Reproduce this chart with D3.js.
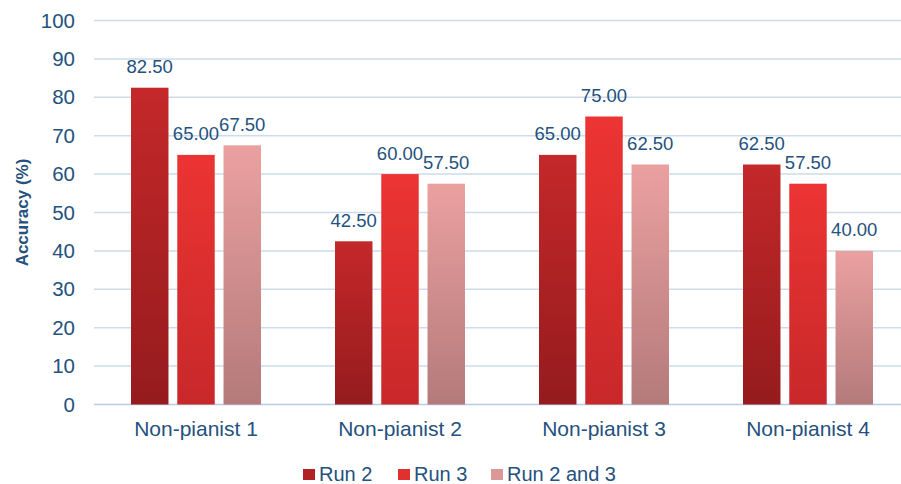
<!DOCTYPE html>
<html>
<head>
<meta charset="utf-8">
<script src="https://cdn.jsdelivr.net/npm/d3@7"></script>
<style>
  html, body { margin: 0; padding: 0; background: #fff; }
  svg { display: block; font-family: "Liberation Sans", Arial, sans-serif; }
</style>
</head>
<body>
<svg id="chart" width="901" height="484"></svg>
<script>
// Participants and accuracy per run (%)
const categories = ["Non-pianist 1", "Non-pianist 2", "Non-pianist 3", "Non-pianist 4"];
const seriesNames = ["Run 2", "Run 3", "Run 2 and 3"];
const run2 = [82.50, 42.50, 65.00, 62.50];
const run3 = [65.00, 60.00, 75.00, 57.50];
const run23 = [67.50, 57.50, 62.50, 40.00];
const yTicks = [0, 10, 20, 30, 40, 50, 60, 70, 80, 90, 100];

(function () {
  const seriesValues = [run2, run3, run23];
  const topColors = ["#c4282a", "#ec3433", "#eba0a0"];
  const bottomColors = ["#951b1d", "#c8282a", "#b47a7a"];
  const legendColors = ["#b02224", "#e0302f", "#dc9898"];
  const textColor = "#24517e";

  const svg = d3.select("#chart");
  const defs = svg.append("defs");
  seriesNames.forEach((s, i) => {
    const g = defs.append("linearGradient")
      .attr("id", "grad" + i).attr("x1", 0).attr("y1", 0).attr("x2", 0).attr("y2", 1);
    g.append("stop").attr("offset", "0%").attr("stop-color", topColors[i]);
    g.append("stop").attr("offset", "100%").attr("stop-color", bottomColors[i]);
  });

  const m = { left: 94, right: 910, top: 20.5, bottom: 404.5 };

  const y = d3.scaleLinear().domain([0, 100]).range([m.bottom, m.top]);
  const x0 = d3.scaleBand().domain(categories).range([m.left, m.right]).paddingInner(0).paddingOuter(0);
  const x1 = d3.scaleBand().domain(seriesNames).range([0, x0.bandwidth()])
    .paddingInner(0.19).paddingOuter(0.8);

  // Gridlines
  svg.append("g").selectAll("line").data(yTicks).join("line")
    .attr("x1", m.left).attr("x2", 901)
    .attr("y1", d => y(d)).attr("y2", d => y(d))
    .attr("stroke", d => d === 0 ? "#b9cbe0" : "#cddbec").attr("stroke-width", 1.5);

  // Y axis labels
  const yAxis = d3.axisLeft(y).tickValues(yTicks).tickSize(0).tickPadding(19);
  const ya = svg.append("g").attr("transform", `translate(${m.left},0)`).call(yAxis);
  ya.select(".domain").remove();
  ya.selectAll("text").attr("fill", textColor).attr("font-size", 20.5)
    .attr("font-family", "Liberation Sans, Arial, sans-serif");

  // Y axis title
  svg.append("text")
    .attr("transform", `translate(28,212.5) rotate(-90)`)
    .attr("text-anchor", "middle")
    .attr("fill", textColor).attr("font-size", 17).attr("font-weight", "bold")
    .text("Accuracy (%)");

  // Bars
  const groups = svg.append("g").selectAll("g").data(categories).join("g")
    .attr("transform", d => `translate(${x0(d)},0)`);

  const rows = (c, ci) => seriesNames.map((s, si) => ({ s, si, v: seriesValues[si][ci] }));

  groups.selectAll("rect").data(rows).join("rect")
    .attr("x", d => x1(d.s))
    .attr("width", x1.bandwidth())
    .attr("y", d => y(d.v))
    .attr("height", d => y(0) - y(d.v))
    .attr("fill", d => `url(#grad${d.si})`);

  groups.selectAll("text.val").data(rows).join("text").attr("class", "val")
    .attr("x", d => x1(d.s) + x1.bandwidth() / 2)
    .attr("y", d => y(d.v) - 14.5)
    .attr("text-anchor", "middle")
    .attr("fill", textColor).attr("font-size", 18.5)
    .text(d => d.v.toFixed(2));

  // Category labels
  const xAxis = d3.axisBottom(x0).tickSize(0).tickPadding(17);
  const xa = svg.append("g").attr("transform", `translate(0,${m.bottom})`).call(xAxis);
  xa.select(".domain").remove();
  xa.selectAll("text").attr("fill", textColor).attr("font-size", 21)
    .attr("font-family", "Liberation Sans, Arial, sans-serif");

  // Legend
  const legendX = [303, 398, 491];
  const legend = svg.append("g").selectAll("g").data(seriesNames).join("g")
    .attr("transform", (d, i) => `translate(${legendX[i]},481)`);
  legend.append("rect").attr("x", 0).attr("y", -12).attr("width", 12).attr("height", 11)
    .attr("fill", (d, i) => legendColors[i]);
  legend.append("text").attr("x", 16).attr("y", 0)
    .attr("fill", textColor).attr("font-size", 20)
    .text(d => d);
})();
</script>
</body>
</html>
